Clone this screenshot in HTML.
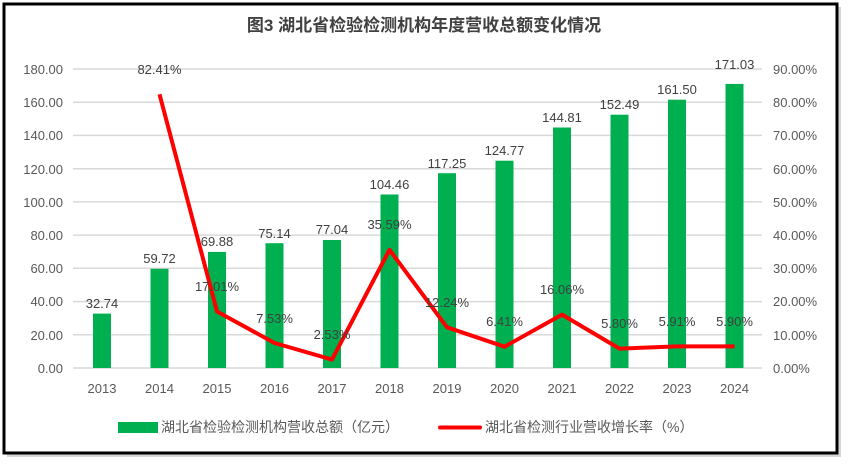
<!DOCTYPE html>
<html><head><meta charset="utf-8"><style>
body{margin:0;background:#fff;}
svg text{font-family:"Liberation Sans","Noto Sans CJK SC",sans-serif;}
</style></head><body>
<svg width="848" height="466" xmlns="http://www.w3.org/2000/svg">
<rect x="7" y="7" width="834" height="450" fill="#bbb" opacity="0.6"/>
<rect x="4" y="4" width="833" height="449" fill="#fff" stroke="#000" stroke-width="3"/>
<text x="424" y="31" text-anchor="middle" font-size="17" font-weight="bold" fill="#404040">图3 湖北省检验检测机构年度营收总额变化情况</text>
<g stroke="#d9d9d9" stroke-width="1.5">
<line x1="73" x2="762" y1="69" y2="69"/><line x1="73" x2="762" y1="102.2" y2="102.2"/>
<line x1="73" x2="762" y1="135.4" y2="135.4"/><line x1="73" x2="762" y1="168.7" y2="168.7"/>
<line x1="73" x2="762" y1="201.9" y2="201.9"/><line x1="73" x2="762" y1="235.1" y2="235.1"/>
<line x1="73" x2="762" y1="268.3" y2="268.3"/><line x1="73" x2="762" y1="301.6" y2="301.6"/>
<line x1="73" x2="762" y1="334.8" y2="334.8"/><line x1="73" x2="762" y1="368" y2="368"/>
</g>
<g font-size="13" fill="#595959" text-anchor="end">
<text x="63" y="74">180.00</text><text x="63" y="107">160.00</text><text x="63" y="140">140.00</text>
<text x="63" y="174">120.00</text><text x="63" y="207">100.00</text><text x="63" y="240">80.00</text>
<text x="63" y="273">60.00</text><text x="63" y="306">40.00</text><text x="63" y="340">20.00</text>
<text x="63" y="373">0.00</text>
</g>
<g font-size="13" fill="#595959" text-anchor="start">
<text x="773" y="74">90.00%</text><text x="773" y="107">80.00%</text><text x="773" y="140">70.00%</text>
<text x="773" y="174">60.00%</text><text x="773" y="207">50.00%</text><text x="773" y="240">40.00%</text>
<text x="773" y="273">30.00%</text><text x="773" y="306">20.00%</text><text x="773" y="340">10.00%</text>
<text x="773" y="373">0.00%</text>
</g>
<g fill="#00b050">
<rect x="93" y="313.6" width="18" height="54.4"/>
<rect x="150.5" y="268.8" width="18" height="99.2"/>
<rect x="208" y="251.9" width="18" height="116.1"/>
<rect x="265.5" y="243.2" width="18" height="124.8"/>
<rect x="323" y="240" width="18" height="128"/>
<rect x="380.5" y="194.5" width="18" height="173.5"/>
<rect x="438" y="173.2" width="18" height="194.8"/>
<rect x="495.5" y="160.7" width="18" height="207.3"/>
<rect x="553" y="127.5" width="18" height="240.5"/>
<rect x="610.5" y="114.7" width="18" height="253.3"/>
<rect x="668" y="99.7" width="18" height="268.3"/>
<rect x="725.5" y="83.9" width="18" height="284.1"/>
</g>
<polyline fill="none" stroke="#ff0000" stroke-width="4" stroke-linejoin="round" points="159.5,94.2 217,311.5 274.5,343 332,359.6 389.5,249.8 447,327.3 504.5,346.7 562,314.6 619.5,348.6 677,346.4 734.5,346.4"/>
<g font-size="13" fill="#404040" text-anchor="middle">
<text x="102" y="308">32.74</text><text x="159.5" y="263">59.72</text><text x="217" y="246">69.88</text>
<text x="274.5" y="238">75.14</text><text x="332" y="234">77.04</text><text x="389.5" y="189">104.46</text>
<text x="447" y="168">117.25</text><text x="504.5" y="155">124.77</text><text x="562" y="122">144.81</text>
<text x="619.5" y="109">152.49</text><text x="677" y="94">161.50</text><text x="734.5" y="69">171.03</text>
<text x="159.5" y="74">82.41%</text><text x="217" y="291">17.01%</text><text x="274.5" y="323">7.53%</text>
<text x="332" y="339">2.53%</text><text x="389.5" y="229">35.59%</text><text x="447" y="307">12.24%</text>
<text x="504.5" y="326">6.41%</text><text x="562" y="294">16.06%</text><text x="619.5" y="328">5.80%</text>
<text x="677" y="326">5.91%</text><text x="734.5" y="326">5.90%</text>
</g>
<g font-size="13" fill="#595959" text-anchor="middle">
<text x="102" y="393">2013</text><text x="159.5" y="393">2014</text><text x="217" y="393">2015</text>
<text x="274.5" y="393">2016</text><text x="332" y="393">2017</text><text x="389.5" y="393">2018</text>
<text x="447" y="393">2019</text><text x="504.5" y="393">2020</text><text x="562" y="393">2021</text>
<text x="619.5" y="393">2022</text><text x="677" y="393">2023</text><text x="734.5" y="393">2024</text>
</g>
<rect x="118" y="422" width="40" height="11" fill="#00b050"/>
<text x="161" y="432" font-size="14" fill="#595959">湖北省检验检测机构营收总额（亿元）</text>
<line x1="440" x2="480" y1="427.5" y2="427.5" stroke="#ff0000" stroke-width="4" stroke-linecap="round"/>
<text x="485" y="432" font-size="14" fill="#595959">湖北省检测行业营收增长率（%）</text>
</svg>
</body></html>
